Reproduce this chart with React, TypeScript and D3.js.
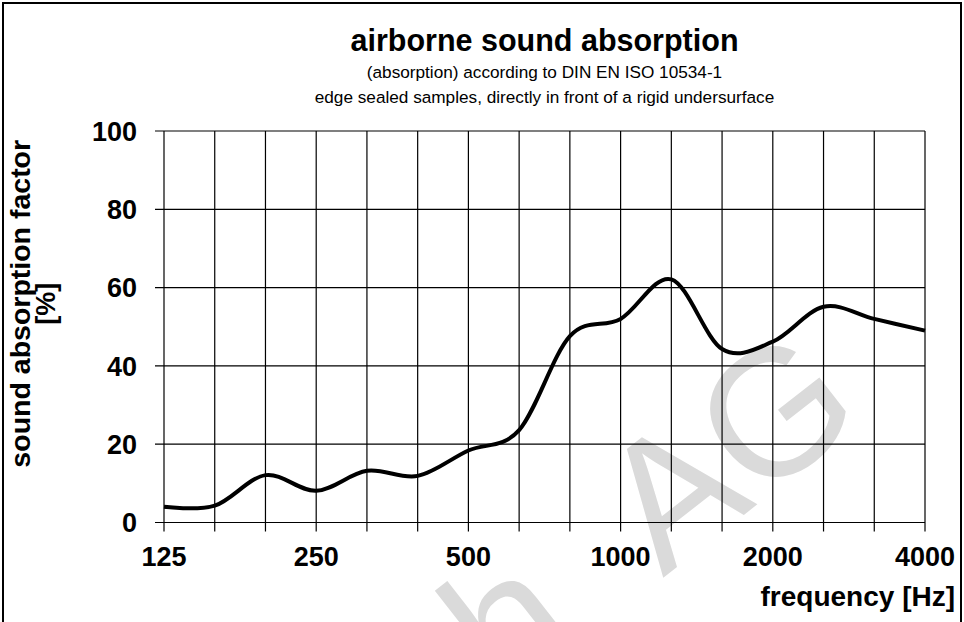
import React, { useRef, useEffect } from 'react';
import * as d3 from 'd3';

// third-octave band centre frequencies (Hz) and measured absorption (%)
const bands = ['125', '160', '200', '250', '315', '400', '500', '630', '800', '1000', '1250', '1600', '2000', '2500', '3150', '4000'];
const absorption = [4.0, 4.3, 12.1, 8.1, 13.2, 11.9, 18.4, 23.6, 47.6, 52.0, 62.1, 44.3, 46.2, 55.1, 52.0, 49.0];
const xTickLabels = ['125', '250', '500', '1000', '2000', '4000'];
const yTicks = [0, 20, 40, 60, 80, 100];

const titleText = 'airborne sound absorption';
const subtitleLines = ['(absorption) according to DIN EN ISO 10534-1', 'edge sealed samples, directly in front of a rigid undersurface'];

const WIDTH = 964;
const HEIGHT = 622;
const FONT = 'Arial, "Liberation Sans", sans-serif';

export default function App() {
    const svgRef = useRef<SVGSVGElement>(null);

    useEffect(() => {
        if (!svgRef.current) return;
        const svg = d3.select(svgRef.current);
        svg.selectAll('*').remove();

        const plot = { left: 164, right: 925, top: 131, bottom: 522.5 };

        const x = d3.scalePoint<string>().domain(bands).range([plot.left, plot.right]);
        const y = d3.scaleLinear().domain([0, 100]).range([plot.bottom, plot.top]);

        svg.append('rect').attr('width', WIDTH).attr('height', HEIGHT).attr('fill', '#fff');

        // watermark (light grey, partly outside the picture)
        svg.append('text')
            .attr('transform', 'translate(868,418) rotate(-38)')
            .attr('text-anchor', 'end')
            .attr('font-family', FONT)
            .attr('font-size', 180)
            .attr('fill', '#dadada')
            .style('white-space', 'pre')
            .text('h\u00A0\u00A0AG');

        // outer frame
        svg.append('rect')
            .attr('x', 3).attr('y', 3)
            .attr('width', WIDTH - 6).attr('height', HEIGHT + 20)
            .attr('fill', 'none')
            .attr('stroke', '#000')
            .attr('stroke-width', 2);

        // titles
        svg.append('text')
            .attr('x', (plot.left + plot.right) / 2).attr('y', 51)
            .attr('text-anchor', 'middle')
            .attr('font-family', FONT).attr('font-weight', 'bold').attr('font-size', 30.5)
            .text(titleText);

        subtitleLines.forEach((line, i) => {
            svg.append('text')
                .attr('x', (plot.left + plot.right) / 2).attr('y', 78 + i * 24.5)
                .attr('text-anchor', 'middle')
                .attr('font-family', FONT).attr('font-size', 17.2)
                .text(line);
        });

        const g = svg.append('g');

        // horizontal grid + y ticks
        yTicks.forEach(t => {
            g.append('line')
                .attr('x1', plot.left - 9).attr('x2', plot.right)
                .attr('y1', y(t)).attr('y2', y(t))
                .attr('stroke', '#000').attr('stroke-width', 1.2);
            g.append('text')
                .attr('x', 137).attr('y', y(t))
                .attr('dy', '0.36em')
                .attr('text-anchor', 'end')
                .attr('font-family', FONT).attr('font-weight', 'bold').attr('font-size', 27)
                .text(t);
        });

        // vertical grid + x ticks
        bands.forEach(b => {
            g.append('line')
                .attr('x1', x(b)!).attr('x2', x(b)!)
                .attr('y1', plot.top).attr('y2', plot.bottom + 9)
                .attr('stroke', '#000').attr('stroke-width', 1.2);
        });
        xTickLabels.forEach(b => {
            g.append('text')
                .attr('x', x(b)!).attr('y', 566)
                .attr('text-anchor', 'middle')
                .attr('font-family', FONT).attr('font-weight', 'bold').attr('font-size', 27)
                .text(b);
        });

        // axis titles
        g.append('text')
            .attr('x', 955).attr('y', 606)
            .attr('text-anchor', 'end')
            .attr('font-family', FONT).attr('font-weight', 'bold').attr('font-size', 28)
            .text('frequency [Hz]');

        const yTitle = g.append('text')
            .attr('transform', `translate(0,${(plot.top + plot.bottom) / 2 - 23}) rotate(-90)`)
            .attr('text-anchor', 'middle')
            .attr('font-family', FONT).attr('font-weight', 'bold').attr('font-size', 28.5);
        yTitle.append('tspan').attr('x', 0).attr('y', 30).text('sound absorption factor');
        yTitle.append('tspan').attr('x', 0).attr('y', 55).attr('font-size', 27).text('[%]');

        // absorption curve (smoothed like the original spreadsheet chart)
        const line = d3.line<number>()
            .x((_, i) => x(bands[i])!)
            .y(d => y(d))
            .curve(d3.curveCatmullRom.alpha(0));

        g.append('path')
            .datum(absorption)
            .attr('d', line)
            .attr('fill', 'none')
            .attr('stroke', '#000')
            .attr('stroke-width', 4)
            .attr('stroke-linejoin', 'round');
    }, []);

    return (
        <svg ref={svgRef} width={WIDTH} height={HEIGHT}
            style={{ position: 'absolute', left: 0, top: 0, display: 'block' }} />
    );
}
